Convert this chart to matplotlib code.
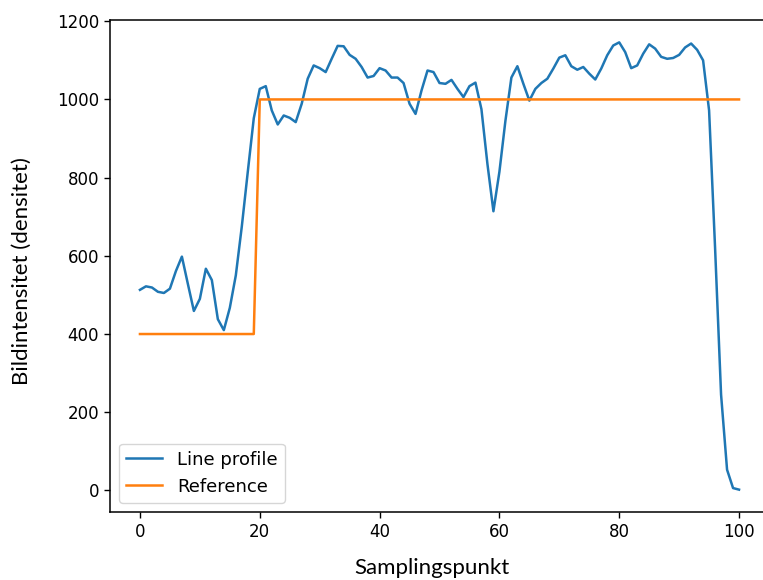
"""
Linjeprofil mot referens — återskapad figur
"""

import numpy as np
import matplotlib
matplotlib.use('Agg')
import matplotlib.pyplot as plt

# ── data ──
sample_idx = np.arange(101)
line_profile = [
    513, 522, 519, 508, 505, 516, 561, 598, 528, 459,
    490, 567, 538, 438, 410, 467, 550, 675, 815, 952,
    1027, 1034, 972, 936, 959, 953, 942, 989, 1053, 1087,
    1080, 1070, 1104, 1137, 1136, 1114, 1104, 1083, 1056, 1060,
    1080, 1074, 1056, 1056, 1042, 989, 963, 1023, 1074, 1070,
    1042, 1040, 1050, 1027, 1006, 1034, 1043, 975, 835, 714,
    815, 945, 1056, 1085, 1040, 997, 1027, 1042, 1053, 1079,
    1107, 1113, 1085, 1076, 1083, 1066, 1051, 1079, 1113, 1138,
    1146, 1121, 1080, 1087, 1117, 1141, 1130, 1109, 1104, 1106,
    1114, 1133, 1143, 1127, 1100, 972, 620, 245, 53, 6,
    2,
]
ref_low, ref_high, ref_step = 400, 1000, 20
reference = np.where(sample_idx < ref_step, ref_low, ref_high)

series_labels = ['Line profile', 'Reference']
x_label = 'Samplingspunkt'
y_label = 'Bildintensitet (densitet)'


def main():
    fig = plt.figure(figsize=(7.63, 5.8), dpi=100)
    ax = fig.add_axes([110 / 763, 68 / 580, 659 / 763, 492 / 580])

    ax.plot(sample_idx, line_profile, color='#1f77b4', linewidth=1.8, label=series_labels[0])
    ax.plot(sample_idx, reference, color='#ff7f0e', linewidth=1.8, label=series_labels[1])

    ax.tick_params(labelsize=12, length=4.5, width=1)
    for sp in ax.spines.values():
        sp.set_linewidth(1.1)

    # axeltitlar ligger lite utanför standardläget i originalet
    ax.set_xlabel(x_label, fontfamily='Lato', fontsize=16)
    ax.set_ylabel(y_label, fontfamily='Lato', fontsize=16)
    ax.xaxis.set_label_coords(0.489, -0.093)
    ax.yaxis.set_label_coords(-0.118, 0.49)

    ax.legend(loc='lower left', fontsize=13)

    fig.savefig('out.png', dpi=100)
    plt.close(fig)


if __name__ == "__main__":
    main()
